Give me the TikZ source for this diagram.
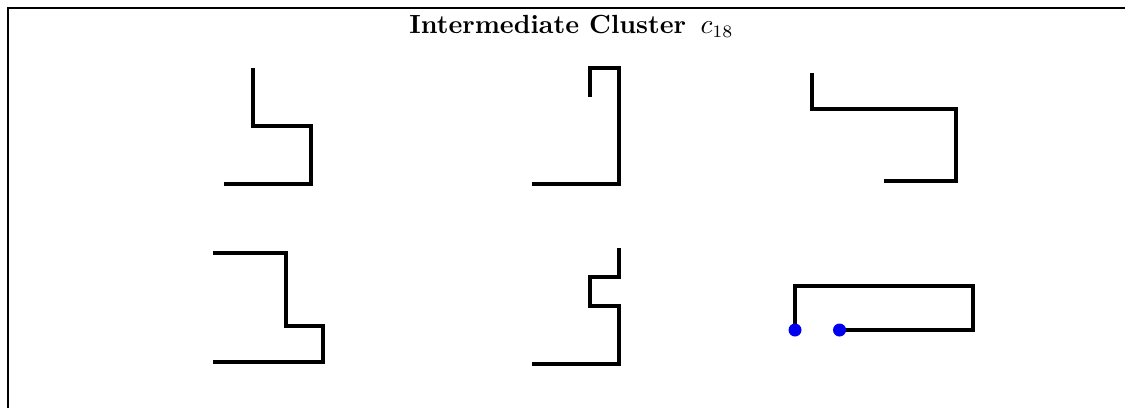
\documentclass[tikz,border=0pt]{standalone}
\usepackage{amsmath}
\usepackage{tikz}
\usetikzlibrary{positioning}
\definecolor{dotblue}{RGB}{0,0,240}
\tikzset{
  framefig/.style={line width=0.6pt,black},
  walkline/.style={line width=1.6pt,black},
  enddot/.style={circle,fill=dotblue,inner sep=0pt,minimum size=5.2pt},
  titletext/.style={font=\fontsize{10.5}{12}\selectfont,anchor=base,inner sep=0pt}
}

\begin{document}
\begin{tikzpicture}[x=0.4pt,y=-0.4pt]
  \useasboundingbox (0,0) rectangle (1125,408);
  % frame and title
  \draw[framefig] (8,408) -- (8,8) -- (1125,8);
  \node[titletext] (title) at (571.5,33) {\textbf{Intermediate Cluster}\hspace{0.55em}$c_{18}$};

  % top row
  \begin{scope}[shift={(224,184)},x=11.6pt,y=11.6pt]
    \draw[walkline] (1,4) -- (1,2) -- (3,2) -- (3,0) -- (0,0);
  \end{scope}
  \begin{scope}[shift={(532,184)},x=11.6pt,y=11.6pt]
    \draw[walkline] (2,3) -- (2,4) -- (3,4) -- (3,0) -- (0,0);
  \end{scope}
  \begin{scope}[shift={(812,181)},x=14.4pt,y=14.4pt]
    \draw[walkline] (0,3) -- (0,2) -- (4,2) -- (4,0) -- (2,0);
  \end{scope}

  % bottom row
  \begin{scope}[shift={(213,362)},x=14.6pt,y=14.6pt]
    \draw[walkline] (0,3) -- (2,3) -- (2,1) -- (3,1) -- (3,0) -- (0,0);
  \end{scope}
  \begin{scope}[shift={(532,364)},x=11.6pt,y=11.6pt]
    \draw[walkline] (3,4) -- (3,3) -- (2,3) -- (2,2) -- (3,2) -- (3,0) -- (0,0);
  \end{scope}
  \begin{scope}[shift={(795,330)},x=17.8pt,y=17.8pt]
    \coordinate (s) at (0,0);
    \coordinate (e) at (1,0);
    \draw[walkline] (s) -- (0,1) -- (4,1) -- (4,0) -- (e);
    \node[enddot] (sdot) at (s) {};
    \node[enddot] (edot) at (e) {};
  \end{scope}
\end{tikzpicture}
\end{document}
